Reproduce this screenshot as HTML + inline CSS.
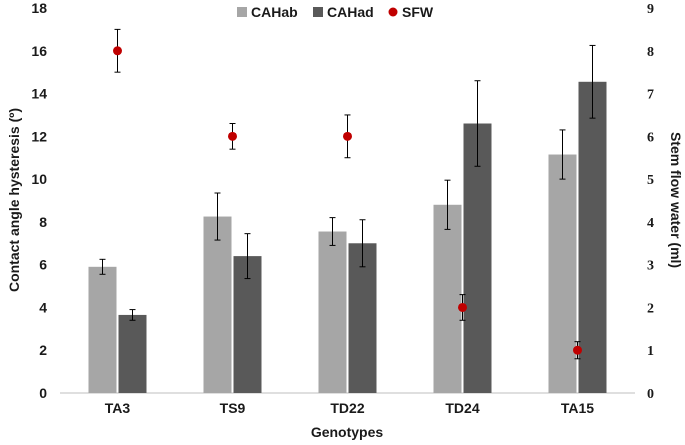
<!DOCTYPE html>
<html><head><meta charset="utf-8"><style>
html,body{margin:0;padding:0;background:#fff;}
svg{display:block;font-family:"Liberation Sans",sans-serif;}
</style></head><body>
<svg id="chart" width="685" height="445"></svg>
<script>
const categories=["TA3","TS9","TD22","TD24","TA15"];
const cahab=[5.9,8.25,7.55,8.8,11.15];
const cahabErr=[0.35,1.1,0.65,1.15,1.15];
const cahad=[3.65,6.4,7.0,12.6,14.55];
const cahadErr=[0.25,1.05,1.1,2.0,1.7];
const sfw=[8,6,6,2,1];
const sfwErr=[0.5,0.3,0.5,0.3,0.2];
const leftTicks=[0,2,4,6,8,10,12,14,16,18];
const rightTicks=[0,1,2,3,4,5,6,7,8,9];

const svg=document.getElementById('chart');
const NS="http://www.w3.org/2000/svg";
const x0=60,x1=635,yB=393,yT=8;
const yL=v=>yB-(v/18)*(yB-yT);
const yR=v=>yB-(v/9)*(yB-yT);
const bw=(x1-x0)/categories.length;
const xc=i=>x0+bw*(i+0.5);
const TXT='#1a1a1a';
function mk(t,a,txt){const e=document.createElementNS(NS,t);for(const k in a)e.setAttribute(k,a[k]);if(txt!==undefined)e.textContent=txt;svg.appendChild(e);return e;}

let ax=mk('line',{x1:x0,x2:x1,y1:yB,y2:yB,stroke:'#bfbfbf','stroke-width':1});



leftTicks.forEach(v=>{const t=mk('text',{x:47,y:yL(v)+5,'text-anchor':'end','font-size':14,'font-weight':'bold',fill:TXT},v);

});
rightTicks.forEach(v=>{const t=mk('text',{x:647,y:yR(v)+5,'text-anchor':'start','font-size':14,'font-weight':'bold',fill:TXT,'font-family':'Liberation Serif,serif'},v);

});

function errbar(x,v,e,yf,name){
  const g=mk('g',{stroke:'#000','stroke-width':1});
  
  
  [[x,yf(v-e),x,yf(v+e)],[x-3,yf(v-e),x+3,yf(v-e)],[x-3,yf(v+e),x+3,yf(v+e)]].forEach(l=>{const ln=document.createElementNS(NS,'line');ln.setAttribute('x1',l[0]);ln.setAttribute('y1',l[1]);ln.setAttribute('x2',l[2]);ln.setAttribute('y2',l[3]);g.appendChild(ln);});
}
const barW=28;
categories.forEach((c,i)=>{
  const cx=xc(i);
  const ra=mk('rect',{x:cx-barW-1,y:yL(cahab[i]),width:barW,height:yB-yL(cahab[i]),fill:'#a6a6a6'});
  
  
  const rd=mk('rect',{x:cx+1,y:yL(cahad[i]),width:barW,height:yB-yL(cahad[i]),fill:'#595959'});
  
  
  errbar(cx-barW/2-1,cahab[i],cahabErr[i],yL,'error-bar-cahab');
  errbar(cx+barW/2+1,cahad[i],cahadErr[i],yL,'error-bar-cahad');
  errbar(cx,sfw[i],sfwErr[i],yR,'error-bar-sfw');
  const p=mk('circle',{cx:cx,cy:yR(sfw[i]),r:4.5,fill:'#c00000'});
  
  
  const t=mk('text',{x:cx,y:413,'text-anchor':'middle','font-size':14,'font-weight':'bold',fill:TXT},c);
  
  
});
</script>
<div style="position:absolute;left:0;top:0;width:685px;height:445px;pointer-events:none;">
<svg width="685" height="445" style="position:absolute;left:0;top:0">
<g font-family="Liberation Sans,sans-serif" font-size="14" font-weight="bold" fill="#1a1a1a">
<rect x="237" y="7" width="10" height="10" fill="#a6a6a6"/>
<text x="251" y="17">CAHab</text>
<rect x="313" y="7" width="10" height="10" fill="#595959"/>
<text x="327" y="17">CAHad</text>
<circle cx="393" cy="12" r="4.5" fill="#c00000"/>
<text x="402" y="17">SFW</text>
</g>
<text x="347" y="437" text-anchor="middle" font-family="Liberation Sans,sans-serif" font-size="14" font-weight="bold" fill="#1a1a1a">Genotypes</text>
<text transform="translate(19,200) rotate(-90)" text-anchor="middle" font-family="Liberation Sans,sans-serif" font-size="14" font-weight="bold" fill="#1a1a1a">Contact angle hysteresis (º)</text>
<text transform="translate(671,200) rotate(90)" text-anchor="middle" font-family="Liberation Sans,sans-serif" font-size="14" font-weight="bold" fill="#1a1a1a">Stem flow water (ml)</text>
</svg></div>
</body></html>
